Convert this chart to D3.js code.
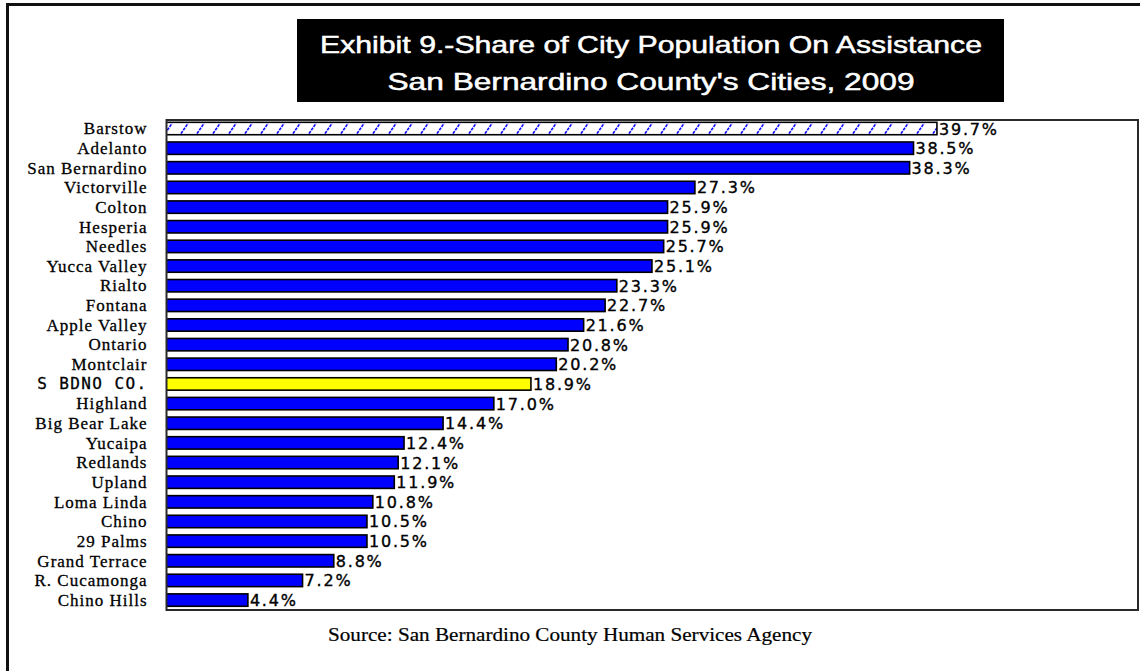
<!DOCTYPE html>
<html>
<head>
<meta charset="utf-8">
<script src="https://cdn.jsdelivr.net/npm/d3@7/dist/d3.min.js"></script>
<style>
  html, body { margin: 0; padding: 0; background: #fff; }
  svg { display: block; }
</style>
</head>
<body>
<svg id="chart" width="1140" height="671"></svg>
<script>
// Cities ranked by share of population on public assistance, 2009
const categories = [
  "Barstow", "Adelanto", "San Bernardino", "Victorville", "Colton", "Hesperia",
  "Needles", "Yucca Valley", "Rialto", "Fontana", "Apple Valley", "Ontario",
  "Montclair", "S BDNO CO.", "Highland", "Big Bear Lake", "Yucaipa", "Redlands",
  "Upland", "Loma Linda", "Chino", "29 Palms", "Grand Terrace", "R. Cucamonga",
  "Chino Hills"
];
const shares = [
  39.7, 38.5, 38.3, 27.3, 25.9, 25.9,
  25.7, 25.1, 23.3, 22.7, 21.6, 20.8,
  20.2, 18.9, 17.0, 14.4, 12.4, 12.1,
  11.9, 10.8, 10.5, 10.5, 8.8, 7.2,
  4.4
];
const hatchedCity = "Barstow";
const countyTotal = "S BDNO CO.";
const titleLines = [
  "Exhibit 9.-Share of City Population On Assistance",
  "San Bernardino County's Cities, 2009"
];
const sourceNote = "Source:  San Bernardino County Human Services Agency";

const rows = categories.map((c, i) => ({ city: c, share: shares[i] }));

const svg = d3.select("#chart");
const frame = { left: 166.5, top: 120, right: 1138, bottom: 610 };

const x = d3.scaleLinear().domain([0, 40]).range([162, 942.8]);
const y = d3.scaleBand().domain(categories).range([118.7, 609.9]).padding(0);
const barH = 12.4;

// outer page rule (top and left edges)
svg.append("path")
  .attr("d", "M7.5,671 V4.5 H1140")
  .attr("fill", "none")
  .attr("stroke", "#111")
  .attr("stroke-width", 3);

// title block
svg.append("rect")
  .attr("x", 297).attr("y", 19).attr("width", 707).attr("height", 83)
  .attr("fill", "#000");
const titleSpecs = [
  { y: 53, len: 662 },
  { y: 90, len: 527 }
];
titleLines.forEach((t, i) => {
  svg.append("text")
    .attr("x", 651).attr("y", titleSpecs[i].y)
    .attr("text-anchor", "middle")
    .attr("font-family", "'Liberation Sans', Arial, sans-serif")
    .attr("font-size", 24)
    .attr("fill", "#fff")
    .attr("stroke", "#fff")
    .attr("stroke-width", 0.5)
    .attr("textLength", titleSpecs[i].len)
    .attr("lengthAdjust", "spacingAndGlyphs")
    .text(t);
});

// hatch fill for the lead city
const defs = svg.append("defs");
const pat = defs.append("pattern")
  .attr("id", "hatch")
  .attr("patternUnits", "userSpaceOnUse")
  .attr("width", 16)
  .attr("height", barH)
  .attr("x", 3)
  .attr("y", y(hatchedCity) + (y.bandwidth() - barH) / 2);
pat.append("rect").attr("width", 16).attr("height", barH).attr("fill", "#fff");
pat.append("path")
  .attr("d", `M2,${barH - 1.2} L9,1.2`)
  .attr("stroke", "#0000ff")
  .attr("stroke-width", 1.6)
  .attr("stroke-dasharray", "3,1")
  .attr("fill", "none");

defs.append("clipPath").attr("id", "plotClip")
  .append("rect")
  .attr("x", frame.left).attr("y", frame.top)
  .attr("width", frame.right - frame.left).attr("height", frame.bottom - frame.top);

// bars
svg.append("g")
  .attr("clip-path", "url(#plotClip)")
  .selectAll("rect")
  .data(rows)
  .join("rect")
  .attr("x", x(0))
  .attr("y", d => y(d.city) + (y.bandwidth() - barH) / 2)
  .attr("width", d => x(d.share) - x(0))
  .attr("height", barH)
  .attr("fill", d => d.city === hatchedCity ? "url(#hatch)" : d.city === countyTotal ? "#ffff00" : "#0000ff")
  .attr("stroke", "#000")
  .attr("stroke-width", 1.6);

// plot frame
svg.append("rect")
  .attr("x", frame.left).attr("y", frame.top)
  .attr("width", frame.right - frame.left).attr("height", frame.bottom - frame.top)
  .attr("fill", "none")
  .attr("stroke", "#2a2a2a")
  .attr("stroke-width", 2);

// value labels
svg.append("g")
  .selectAll("text")
  .data(rows)
  .join("text")
  .attr("x", d => x(d.share) + 2)
  .attr("y", d => y(d.city) + y.bandwidth() / 2 + 6)
  .attr("font-family", "'DejaVu Sans', Verdana, sans-serif")
  .attr("font-size", 16)
  .attr("letter-spacing", "1.8px")
  .attr("fill", "#000")
  .attr("stroke", "#000")
  .attr("stroke-width", 0.35)
  .text(d => d.share.toFixed(1) + "%");

// city axis
const axis = svg.append("g")
  .attr("transform", `translate(${frame.left},0)`)
  .call(d3.axisLeft(y).tickSize(0).tickPadding(19));
axis.select(".domain").remove();
axis.selectAll("text")
  .attr("font-family", d => d === countyTotal ? "'DejaVu Sans Mono', monospace" : "'Liberation Serif', 'Times New Roman', serif")
  .attr("font-size", d => d === countyTotal ? 16 : 17)
  .attr("letter-spacing", d => d === countyTotal ? "1.4px" : "1px")
  .attr("dy", "0.34em")
  .attr("fill", "#000")
  .attr("stroke", "#000")
  .attr("stroke-width", 0.3);

// source note
svg.append("text")
  .attr("x", 570).attr("y", 641)
  .attr("text-anchor", "middle")
  .attr("font-family", "'Liberation Serif', 'Times New Roman', serif")
  .attr("font-size", 18)
  .attr("textLength", 484)
  .attr("lengthAdjust", "spacingAndGlyphs")
  .attr("fill", "#000")
  .attr("stroke", "#000")
  .attr("stroke-width", 0.2)
  .text(sourceNote);
</script>
</body>
</html>
